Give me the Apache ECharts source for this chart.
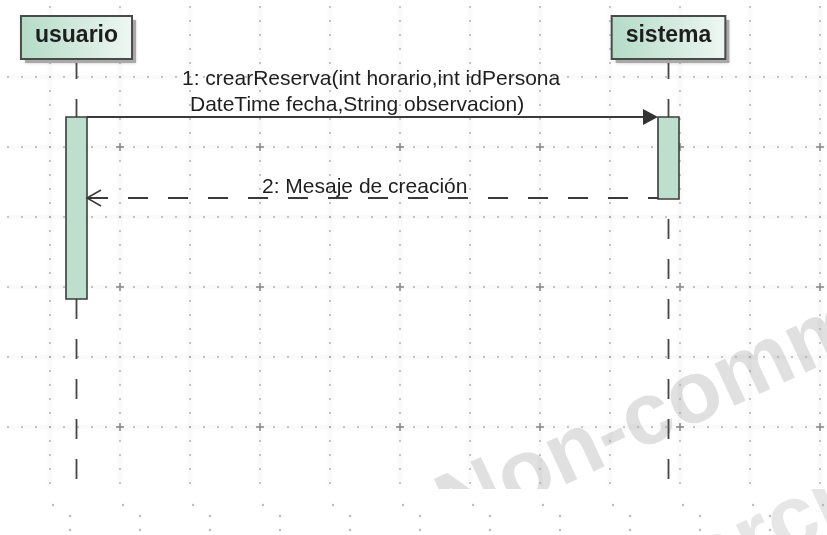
<!DOCTYPE html>
<html>
<head>
<meta charset="utf-8">
<script src="https://cdn.jsdelivr.net/npm/echarts@6/dist/echarts.min.js"></script>
<style>
html,body{margin:0;padding:0;background:#ffffff;}
#chart{width:827px;height:535px;}
</style>
</head>
<body>
<div id="chart"></div>
<script>
// ---------------- data (diagram units = axis values) ----------------
const participants = ['usuario', 'sistema'];
const lifelineX = [76.5, 668.5];

const messageFrom = [0, 1];
const messageTo = [1, 0];
const messageY = [117, 198];
const messageType = ['call', 'return'];
const messageLines = [
  ['1: crearReserva(int horario,int idPersona', 'DateTime fecha,String observacion)'],
  ['2: Mesaje de creación']
];

const activationOwner = [0, 1];
const activationStart = [117, 117];
const activationEnd = [299, 199];

const gridColumns = [50, 120, 190, 260, 330, 400, 470, 540, 610, 680, 750, 820];
const gridRows = [77, 147, 217, 287, 357, 427];
const crossColumns = [120, 260, 400, 540, 680, 820];
const crossRows = [147, 287, 427];

const watermarkText = 'Non-commercial';

// ---------------- layout & style ----------------
const FONT = '"Liberation Sans", Arial, Helvetica, sans-serif';
const L = {
  W: 827, H: 535, splitY: 489,
  headerTop: 16, headerBottom: 59, headerPad: 14, headerFont: 23, headerBaseline: 44,
  lifelineEnd: 479,
  actHalf: 10.5,
  labelFont: 21,
  labelPos: [[[182, 86], [190, 112]], [[262, 194]]],
  gridTop: 6.2, gridBottom: 486, gridLeft: 7.2,
  arrowLen: 15, arrowHalf: 8,
  watermark1: [457, 542], watermark2: [292, 790], watermarkFont: 88, watermarkAngle: 25,
  bottomRows: [505, 516, 530], bottomShift: [3, 20, 20]
};
const INK = '#3a3a3a';
const TEXT = '#1e1e1e';

const measureCtx = document.createElement('canvas').getContext('2d');
function textWidth(t, font) { measureCtx.font = font; return measureCtx.measureText(t).width; }
// baseline -> 'middle' y for canvas rendering
function midY(baseline, size) { return baseline - 0.347 * size; }

const chart = echarts.init(document.getElementById('chart'), null, {renderer: 'canvas'});

function watermarkItem(origin, color) {
  return function (params, api) {
    const p = api.coord(origin);
    return {
      type: 'text',
      x: p[0], y: p[1],
      rotation: L.watermarkAngle * Math.PI / 180,
      style: {
        text: watermarkText,
        x: 0, y: midY(0, L.watermarkFont),
        font: 'bold ' + L.watermarkFont + 'px ' + FONT,
        fill: color,
        align: 'left', verticalAlign: 'middle'
      }
    };
  };
}

function dottedLine(a, b) {
  return {type: 'group', children: [
    {type: 'line', shape: {x1: a[0], y1: a[1], x2: b[0], y2: b[1]},
     style: {stroke: 'rgba(0,0,0,0.018)', lineWidth: 5}},
    {type: 'line', shape: {x1: a[0], y1: a[1], x2: b[0], y2: b[1]},
     style: {stroke: '#a4a4a4', lineWidth: 1.6, lineDash: [1.6, 12.4]}}
  ]};
}

const option = {
  animation: false,
  backgroundColor: '#ffffff',
  grid: [
    {left: 0, top: 0, width: L.W, height: L.splitY},
    {left: 0, top: L.splitY, width: L.W, height: L.H - L.splitY}
  ],
  xAxis: [
    {gridIndex: 0, type: 'value', min: 0, max: L.W, show: false},
    {gridIndex: 1, type: 'value', min: 0, max: L.W, show: false}
  ],
  yAxis: [
    {gridIndex: 0, type: 'value', min: 0, max: L.splitY, inverse: true, show: false},
    {gridIndex: 1, type: 'value', min: L.splitY, max: L.H, inverse: true, show: false}
  ],
  series: [
    // watermark (top tile)
    {
      type: 'custom', xAxisIndex: 0, yAxisIndex: 0, clip: true, z: 1, silent: true,
      data: [[0, 0]], renderItem: watermarkItem(L.watermark1, '#e0e0e0')
    },
    // watermark (bottom tile)
    {
      type: 'custom', xAxisIndex: 1, yAxisIndex: 1, clip: true, z: 1, silent: true,
      data: [[0, L.splitY]], renderItem: watermarkItem(L.watermark2, '#e6e6e6')
    },
    // vertical dotted grid lines
    {
      type: 'custom', xAxisIndex: 0, yAxisIndex: 0, z: 2, silent: true,
      data: gridColumns.map(x => [x, 0]),
      renderItem: function (params, api) {
        const x = api.value(0);
        return dottedLine(api.coord([x, L.gridTop]), api.coord([x, L.gridBottom]));
      }
    },
    // horizontal dotted grid lines
    {
      type: 'custom', xAxisIndex: 0, yAxisIndex: 0, z: 2, silent: true,
      data: gridRows.map(y => [0, y]),
      renderItem: function (params, api) {
        const y = api.value(1);
        return dottedLine(api.coord([L.gridLeft, y]), api.coord([L.W, y]));
      }
    },
    // major crosses
    {
      type: 'custom', xAxisIndex: 0, yAxisIndex: 0, z: 3, silent: true,
      data: crossRows.flatMap(y => crossColumns.map(x => [x, y])),
      renderItem: function (params, api) {
        const p = api.coord([api.value(0), api.value(1)]);
        const s = 4;
        return {type: 'group', children: [
          {type: 'line', shape: {x1: p[0] - s, y1: p[1], x2: p[0] + s, y2: p[1]}, style: {stroke: '#8c8c8c', lineWidth: 1.6}},
          {type: 'line', shape: {x1: p[0], y1: p[1] - s, x2: p[0], y2: p[1] + s}, style: {stroke: '#8c8c8c', lineWidth: 1.6}}
        ]};
      }
    },
    // bottom tile dots
    {
      type: 'scatter', xAxisIndex: 1, yAxisIndex: 1, z: 2, silent: true,
      symbol: 'circle', symbolSize: 2.4,
      itemStyle: {color: '#ababab'},
      data: L.bottomRows.flatMap((y, r) => gridColumns.map(x => [x + L.bottomShift[r], y]))
    },
    // lifelines
    {
      type: 'custom', xAxisIndex: 0, yAxisIndex: 0, z: 5, silent: true,
      data: lifelineX.map(x => [x, 0]),
      renderItem: function (params, api) {
        const x = api.value(0);
        const a = api.coord([x, L.headerBottom]), b = api.coord([x, L.lifelineEnd]);
        return {type: 'line', shape: {x1: a[0], y1: a[1], x2: b[0], y2: b[1]},
                style: {stroke: '#454545', lineWidth: 1.8, lineDash: [20, 20]}};
      }
    },
    // participant headers
    {
      type: 'custom', xAxisIndex: 0, yAxisIndex: 0, z: 6, silent: true,
      data: lifelineX.map(x => [x, 0]),
      renderItem: function (params, api) {
        const i = params.dataIndex;
        const font = 'bold ' + L.headerFont + 'px ' + FONT;
        const w = textWidth(participants[i], font);
        const cx = api.value(0);
        const tl = api.coord([cx - w / 2 - L.headerPad, L.headerTop]);
        const br = api.coord([cx + w / 2 + L.headerPad, L.headerBottom]);
        const bw = br[0] - tl[0], bh = br[1] - tl[1];
        return {type: 'group', children: [
          {type: 'rect', shape: {x: tl[0] + 4, y: tl[1] + 4, width: bw, height: bh},
           style: {fill: '#a9a9a9', shadowBlur: 3, shadowColor: 'rgba(0,0,0,0.25)'}},
          {type: 'rect', shape: {x: tl[0], y: tl[1], width: bw, height: bh},
           style: {
             fill: new echarts.graphic.LinearGradient(0, 0, 1, 0, [
               {offset: 0, color: '#b3dbc6'}, {offset: 1, color: '#eef7f2'}
             ]),
             stroke: '#4a4a4a', lineWidth: 2
           }},
          {type: 'text', style: {
             text: participants[i], x: api.coord([cx, 0])[0],
             y: midY(api.coord([0, L.headerBaseline])[1], L.headerFont),
             font: font, fill: TEXT, align: 'center', verticalAlign: 'middle'
          }}
        ]};
      }
    },
    // activation boxes
    {
      type: 'custom', xAxisIndex: 0, yAxisIndex: 0, z: 7, silent: true,
      data: activationOwner.map((o, i) => [lifelineX[o], activationStart[i], activationEnd[i]]),
      renderItem: function (params, api) {
        const x = api.value(0);
        const a = api.coord([x - L.actHalf, api.value(1)]);
        const b = api.coord([x + L.actHalf, api.value(2)]);
        return {type: 'rect', shape: {x: a[0], y: a[1], width: b[0] - a[0], height: b[1] - a[1]},
                style: {fill: '#bde0ce', stroke: '#3c3c3c', lineWidth: 1.6}};
      }
    },
    // messages
    {
      type: 'custom', xAxisIndex: 0, yAxisIndex: 0, z: 8, silent: true,
      data: messageY.map((y, i) => [lifelineX[messageFrom[i]], y, lifelineX[messageTo[i]]]),
      renderItem: function (params, api) {
        const i = params.dataIndex;
        const fx = api.value(0), y = api.value(1), tx = api.value(2);
        const dir = tx > fx ? 1 : -1;
        const a = api.coord([fx + dir * L.actHalf, y]);
        const b = api.coord([tx - dir * L.actHalf, y]);
        const children = [];
        if (messageType[i] === 'call') {
          children.push({type: 'line', shape: {x1: a[0], y1: a[1], x2: b[0] - dir * 4, y2: b[1]},
                         style: {stroke: INK, lineWidth: 1.8}});
          children.push({type: 'polygon', shape: {points: [
              [b[0], b[1]], [b[0] - dir * L.arrowLen, b[1] - L.arrowHalf], [b[0] - dir * L.arrowLen, b[1] + L.arrowHalf]]},
            style: {fill: '#333333'}});
        } else {
          children.push({type: 'line', shape: {x1: a[0], y1: a[1], x2: b[0], y2: b[1]},
                         style: {stroke: INK, lineWidth: 1.8, lineDash: [20, 20], lineDashOffset: 10}});
          children.push({type: 'polyline', shape: {points: [
              [b[0] - dir * 14, b[1] - 8], [b[0], b[1]], [b[0] - dir * 14, b[1] + 8]]},
            style: {stroke: INK, lineWidth: 1.5, fill: null}});
        }
        messageLines[i].forEach((t, k) => {
          const pos = L.labelPos[i][k];
          const p = api.coord(pos);
          children.push({type: 'text', style: {
            text: t, x: p[0], y: midY(p[1], L.labelFont),
            font: L.labelFont + 'px ' + FONT, fill: TEXT, align: 'left', verticalAlign: 'middle'
          }});
        });
        return {type: 'group', children: children};
      }
    }
  ]
};
chart.setOption(option);
</script>
</body>
</html>
